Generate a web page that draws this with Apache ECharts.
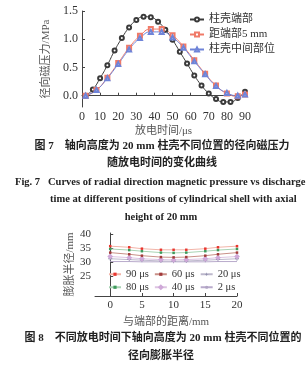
<!DOCTYPE html>
<html>
<head>
<meta charset="utf-8">
<script src="https://cdn.jsdelivr.net/npm/echarts@6/dist/echarts.min.js"></script>
<style>
  html, body { margin: 0; padding: 0; background: #fff; }
  #main { width: 306px; height: 366px; }
</style>
</head>
<body>
<div id="main"></div>
<script>
// Fig. 7 data: radial magnetic pressure (MPa) vs discharge time (us)
const timeEnd = [2, 6, 10, 14, 18, 22, 26, 30, 34, 38, 42, 46, 50, 54, 58, 62, 66, 70, 74, 78, 82, 86, 90];
const pressEnd = [0.00, 0.11, 0.31, 0.54, 0.80, 1.02, 1.21, 1.34, 1.40, 1.39, 1.31, 1.17, 0.99, 0.78, 0.57, 0.36, 0.18, 0.04, -0.06, -0.11, -0.11, -0.04, 0.07];
const timeSide = [2, 8, 14, 20, 26, 32, 38, 44, 50, 56, 62, 68, 74, 80, 86, 90];
const press5mm = [0.00, 0.10, 0.32, 0.58, 0.85, 1.06, 1.18, 1.18, 1.07, 0.87, 0.63, 0.39, 0.18, 0.04, -0.01, 0.02];
const pressMid = [0.00, 0.10, 0.31, 0.56, 0.82, 1.02, 1.13, 1.13, 1.03, 0.85, 0.61, 0.38, 0.17, 0.05, 0.00, 0.02];
const fig7Names = ['柱壳端部', '距端部5 mm', '柱壳中间部位'];

// Fig. 8 data: expansion radius (mm) vs distance from end (mm)
const dist = [0, 3, 5, 8, 10, 12, 15, 17, 20];
const r90 = [35.8, 35.4, 34.9, 34.5, 34.5, 34.5, 34.9, 35.4, 35.8];
const r80 = [34.8, 34.4, 34.0, 33.5, 33.4, 33.5, 34.0, 34.4, 34.8];
const r60 = [33.5, 32.9, 32.4, 31.9, 31.8, 31.9, 32.4, 32.9, 33.5];
const r40 = [32.1, 31.7, 31.3, 31.0, 30.9, 31.0, 31.3, 31.7, 32.1];
const r20 = [31.3, 31.0, 30.8, 30.5, 30.4, 30.5, 30.8, 31.0, 31.3];
const r2 = [30.3, 30.3, 30.2, 30.2, 30.2, 30.2, 30.2, 30.3, 30.3];
const fig8Row1 = ['90 μs', '60 μs', '20 μs'];
const fig8Row2 = ['80 μs', '40 μs', '2 μs'];

const pairs = (xs, ys) => xs.map((x, i) => [x, ys[i]]);

const serif = '"Liberation Serif", "DejaVu Serif", "Noto Sans CJK SC", serif';
const axisCol = '#444';
const txtCol = '#333';

const chart = echarts.init(document.getElementById('main'));

function axisBase() {
    return {
        type: 'value',
        splitLine: { show: false },
        axisLine: { show: true, lineStyle: { color: axisCol, width: 1 } },
        axisTick: { show: true, inside: true, length: 3, lineStyle: { color: axisCol } },
        axisLabel: { color: txtCol, fontFamily: serif, fontSize: 12, margin: 4 },
        nameLocation: 'middle',
        nameTextStyle: { color: '#555', fontFamily: serif, fontSize: 11 }
    };
}

function caption(text, x, y, size, align) {
    return {
        type: 'text',
        x: x, y: y,
        style: {
            text: text,
            fill: '#222',
            font: 'bold ' + size + 'px ' + serif,
            textAlign: align || 'center',
            textVerticalAlign: 'middle'
        }
    };
}

// fig 7 series helper
function pressSeries(name, xs, ys, symbol, color) {
    return {
        name: name, type: 'line', smooth: true,
        data: pairs(xs, ys),
        symbol: symbol, symbolSize: 4,
        itemStyle: { color: color, borderWidth: 1 },
        lineStyle: { width: 1 },
        emphasis: { disabled: true }
    };
}

// fig 8 series helper
function radSeries(name, data, marker, line, symbol, size) {
    return {
        name: name, type: 'line', xAxisIndex: 1, yAxisIndex: 1,
        data: pairs(dist, data),
        symbol: symbol, symbolSize: size,
        showSymbol: symbol !== 'none',
        itemStyle: { color: marker, borderWidth: 1 },
        lineStyle: { color: line, width: 1 },
        emphasis: { disabled: true }
    };
}

const star = 'path://M4,0L6,0L6,4L10,4L10,6L6,6L6,10L4,10L4,6L0,6L0,4L4,4Z';

chart.setOption({
    animation: false,
    grid: [
        { left: 82, right: 61, top: 11, bottom: 259 },
        { left: 95, right: 69, top: 233, bottom: 70 }
    ],
    xAxis: [
        Object.assign(axisBase(), {
            gridIndex: 0, min: 0, max: 90, interval: 10,
            name: '放电时间/μs', nameGap: 19
        }),
        Object.assign(axisBase(), {
            gridIndex: 1, min: -2.4, max: 20,
            name: '与端部的距离/mm', nameGap: 21,
            axisTick: { show: true, inside: true, length: 3, lineStyle: { color: axisCol }, customValues: [0, 5, 10, 15, 20] },
            axisLabel: { color: txtCol, fontFamily: serif, fontSize: 11, margin: 4, customValues: [0, 5, 10, 15, 20] }
        })
    ],
    yAxis: [
        Object.assign(axisBase(), {
            gridIndex: 0, min: -0.2, max: 1.5,
            name: '径向磁压力/MPa', nameGap: 21,
            axisTick: { show: true, inside: true, length: 3, lineStyle: { color: axisCol }, customValues: [0, 0.5, 1, 1.5] },
            axisLabel: {
                color: txtCol, fontFamily: serif, fontSize: 12, margin: 4,
                customValues: [0, 0.5, 1, 1.5],
                formatter: v => v.toFixed(1)
            }
        }),
        Object.assign(axisBase(), {
            gridIndex: 1, min: 18, max: 40.5,
            name: '膨胀半径/mm', nameGap: 18,
            axisTick: { show: true, inside: true, length: 3, lineStyle: { color: axisCol }, customValues: [25, 30, 35, 40] },
            axisLabel: { color: txtCol, fontFamily: serif, fontSize: 11, margin: 4, customValues: [25, 30, 35, 40] }
        })
    ],
    legend: [
        {
            data: fig7Names, orient: 'vertical', left: 184, top: 9,
            itemGap: 4, itemWidth: 14, itemHeight: 5,
            textStyle: { color: txtCol, fontFamily: serif, fontSize: 11 }
        },
        {
            data: fig8Row1, left: 103, top: 264,
            itemGap: 5, itemWidth: 12, itemHeight: 4,
            textStyle: { color: txtCol, fontFamily: serif, fontSize: 10.5 }
        },
        {
            data: fig8Row2, left: 103, top: 277,
            itemGap: 5, itemWidth: 12, itemHeight: 4,
            textStyle: { color: txtCol, fontFamily: serif, fontSize: 10.5 }
        }
    ],
    series: [
        pressSeries(fig7Names[0], timeEnd, pressEnd, 'emptyCircle', '#3a3a3a'),
        pressSeries(fig7Names[1], timeSide, press5mm, 'emptyRect', '#f07a68'),
        pressSeries(fig7Names[2], timeSide, pressMid, 'emptyTriangle', '#6f84d8'),
        radSeries('2 μs', r2, '#b0a4c4', '#b8aacb', 'none', 0),
        radSeries('20 μs', r20, '#8a88a8', '#bdb8cc', star, 4),
        radSeries('40 μs', r40, '#cfa8d8', '#ddc4e2', 'emptyDiamond', 3),
        radSeries('60 μs', r60, '#a23a3a', '#c99088', 'rect', 2.5),
        radSeries('80 μs', r80, '#3e9a5c', '#a9d3b4', 'rect', 2.5),
        radSeries('90 μs', r90, '#e8352e', '#f2b4a8', 'rect', 2.5)
    ],
    graphic: [
        caption('图 7　轴向高度为 20 mm 柱壳不同位置的径向磁压力', 162, 146, 11),
        caption('随放电时间的变化曲线', 162, 163, 11),
        caption('Fig. 7   Curves of radial direction magnetic pressure vs discharge', 15, 182, 10.5, 'left'),
        caption('time at different positions of cylindrical shell with axial', 50, 199, 10.5, 'left'),
        caption('height of 20 mm', 161, 217, 10.5),
        caption('图 8　不同放电时间下轴向高度为 20 mm 柱壳不同位置的', 163, 338, 11),
        caption('径向膨胀半径', 161, 356, 11)
    ]
});
</script>
</body>
</html>
